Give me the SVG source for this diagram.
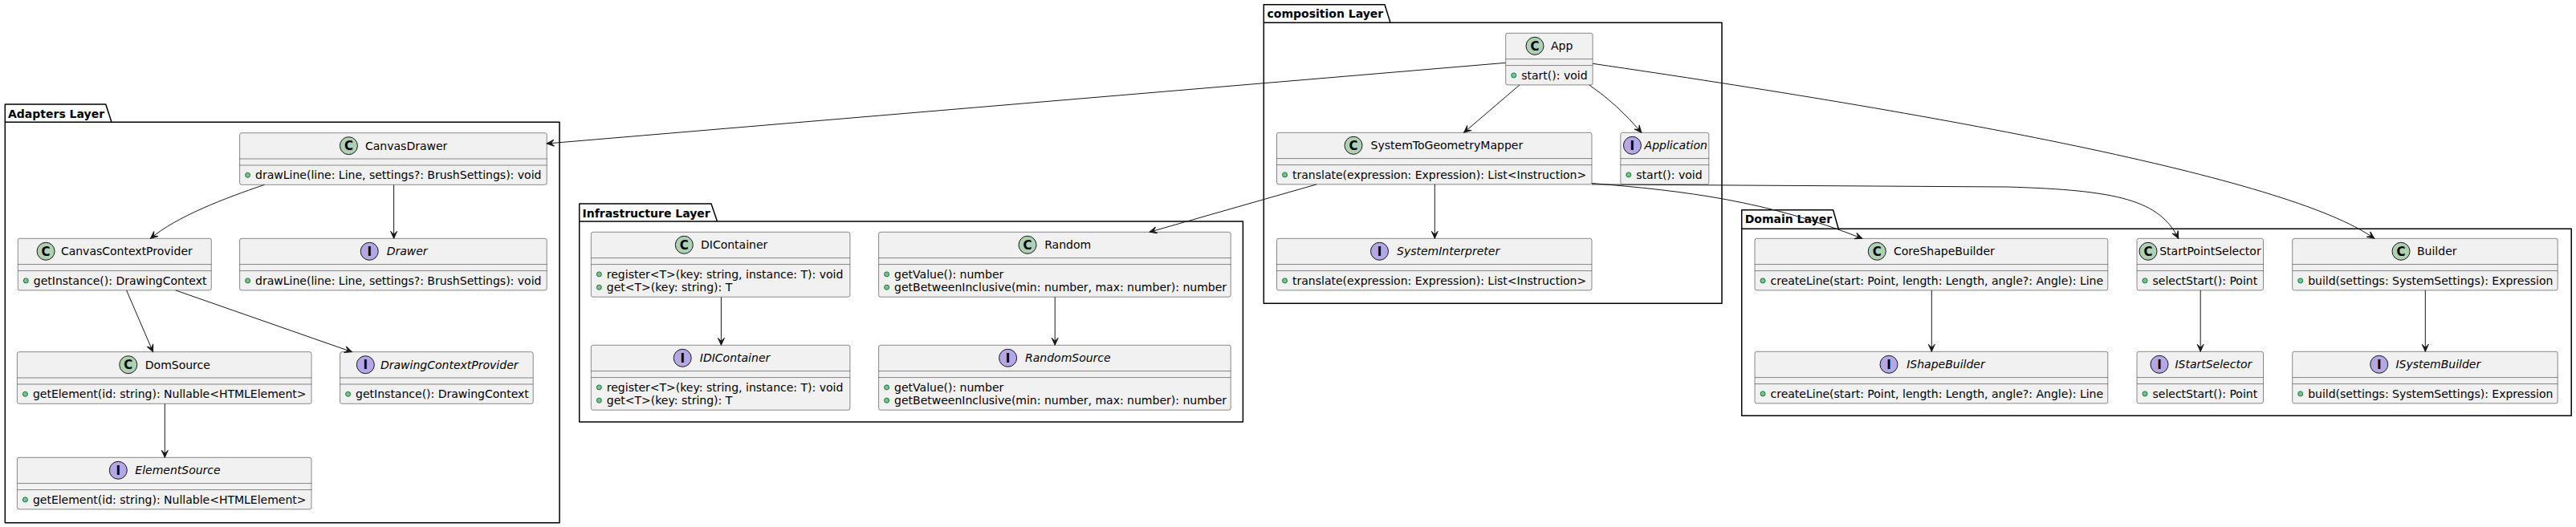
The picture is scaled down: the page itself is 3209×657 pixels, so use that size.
<svg xmlns="http://www.w3.org/2000/svg" width="3209" height="657" viewBox="0 0 3209 657">
<style>
.box{fill:#F1F1F1;stroke:#181818;stroke-width:0.5}
.sep{stroke:#181818;stroke-width:0.5}
.cc{fill:#ADD1B2;stroke:#181818;stroke-width:1}
.ci{fill:#B4A7E5;stroke:#181818;stroke-width:1}
.lt{font-family:"DejaVu Sans",sans-serif;font-weight:bold;font-size:15px;text-anchor:middle;fill:#000}
.name{font-family:"DejaVu Sans",sans-serif;font-size:14px;fill:#000}
.iname{font-family:"DejaVu Sans",sans-serif;font-size:14px;font-style:italic;fill:#000}
.m{font-family:"DejaVu Sans",sans-serif;font-size:14px;fill:#000}
.vis{fill:#84BE84;stroke:#038048;stroke-width:1}
.pkg{fill:none;stroke:#000;stroke-width:1.5;stroke-linejoin:round}
.pl{font-family:"DejaVu Sans",sans-serif;font-weight:bold;font-size:14px;fill:#000}
.edge{fill:none;stroke:#181818;stroke-width:1;marker-end:url(#arr)}
</style>
<defs>
<marker id="arr" viewBox="-10 -5 11 10" refX="0" refY="0" markerWidth="11" markerHeight="10" markerUnits="userSpaceOnUse" orient="auto"><path d="M0,0 L-9,-4 L-5,0 L-9,4 Z" fill="#181818" stroke="#181818" stroke-width="1"/></marker>
</defs>
<rect x="0" y="0" width="3209" height="657" fill="#FFFFFF"/>

<g id="pkg-adapters">
<path class="pkg" d="M6.3,130 L131.7,130 L139,152.3 L697,152.3 L697,651.7 L6.3,651.7 Z M6.3,152.3 L139,152.3"/>
<text class="pl" x="10" y="146.5">Adapters Layer</text>
</g>
<g id="pkg-infrastructure">
<path class="pkg" d="M721.7,254 L886,254 L893.5,276 L1548.4,276 L1548.4,526 L721.7,526 Z M721.7,276 L893.5,276"/>
<text class="pl" x="725.5" y="270.5">Infrastructure Layer</text>
</g>
<g id="pkg-composition">
<path class="pkg" d="M1574.3,5.7 L1725,5.7 L1732,28.3 L2145,28.3 L2145,378.3 L1574.3,378.3 Z M1574.3,28.3 L1732,28.3"/>
<text class="pl" x="1578.5" y="22.2">composition Layer</text>
</g>
<g id="pkg-domain">
<path class="pkg" d="M2169.7,261.7 L2283.6,261.7 L2290.2,285.3 L3203.2,285.3 L3203.2,518.3 L2169.7,518.3 Z M2169.7,285.3 L2290.2,285.3"/>
<text class="pl" x="2173.7" y="278.2">Domain Layer</text>
</g>

<g id="CanvasDrawer">
<rect class="box" x="298.6" y="165.7" width="382.6" height="64.6" rx="2.5"/>
<circle class="cc" cx="434.4" cy="181.7" r="11"/><text class="lt" x="434.4" y="187.2">C</text>
<text class="name" x="455" y="186.7">CanvasDrawer</text>
<line class="sep" x1="298.6" y1="198" x2="681.2" y2="198"/><line class="sep" x1="298.6" y1="206" x2="681.2" y2="206"/>
<circle class="vis" cx="308.6" cy="218.3" r="3"/><text class="m" x="318.1" y="223">drawLine(line: Line, settings?: BrushSettings): void</text>
</g>
<g id="Drawer">
<rect class="box" x="298.6" y="297.3" width="382.6" height="64.6" rx="2.5"/>
<circle class="ci" cx="460.2" cy="313.3" r="11"/><text class="lt" x="460.2" y="318.8">I</text>
<text class="iname" x="481.7" y="318.3">Drawer</text>
<line class="sep" x1="298.6" y1="329.6" x2="681.2" y2="329.6"/><line class="sep" x1="298.6" y1="337.6" x2="681.2" y2="337.6"/>
<circle class="vis" cx="308.6" cy="349.9" r="3"/><text class="m" x="318.1" y="354.6">drawLine(line: Line, settings?: BrushSettings): void</text>
</g>
<g id="CanvasContextProvider">
<rect class="box" x="22.3" y="297.3" width="241" height="64.6" rx="2.5"/>
<circle class="cc" cx="57.1" cy="313.3" r="11"/><text class="lt" x="57.1" y="318.8">C</text>
<text class="name" x="75.9" y="318.3">CanvasContextProvider</text>
<line class="sep" x1="22.3" y1="329.6" x2="263.3" y2="329.6"/><line class="sep" x1="22.3" y1="337.6" x2="263.3" y2="337.6"/>
<circle class="vis" cx="32.3" cy="349.9" r="3"/><text class="m" x="41.8" y="354.6">getInstance(): DrawingContext</text>
</g>
<g id="DomSource">
<rect class="box" x="21.4" y="438.7" width="366.6" height="64.6" rx="2.5"/>
<circle class="cc" cx="159.8" cy="454.7" r="11"/><text class="lt" x="159.8" y="460.2">C</text>
<text class="name" x="180.8" y="459.7">DomSource</text>
<line class="sep" x1="21.4" y1="471" x2="388" y2="471"/><line class="sep" x1="21.4" y1="479" x2="388" y2="479"/>
<circle class="vis" cx="31.4" cy="491.3" r="3"/><text class="m" x="40.9" y="496">getElement(id: string): Nullable&lt;HTMLElement&gt;</text>
</g>
<g id="DrawingContextProvider">
<rect class="box" x="423.6" y="438.7" width="240.6" height="64.6" rx="2.5"/>
<circle class="ci" cx="455.3" cy="454.7" r="11"/><text class="lt" x="455.3" y="460.2">I</text>
<text class="iname" x="474" y="459.7">DrawingContextProvider</text>
<line class="sep" x1="423.6" y1="471" x2="664.2" y2="471"/><line class="sep" x1="423.6" y1="479" x2="664.2" y2="479"/>
<circle class="vis" cx="433.6" cy="491.3" r="3"/><text class="m" x="443.1" y="496">getInstance(): DrawingContext</text>
</g>
<g id="ElementSource">
<rect class="box" x="21.4" y="570.3" width="366.6" height="64.6" rx="2.5"/>
<circle class="ci" cx="147.3" cy="586.3" r="11"/><text class="lt" x="147.3" y="591.8">I</text>
<text class="iname" x="168.3" y="591.3">ElementSource</text>
<line class="sep" x1="21.4" y1="602.6" x2="388" y2="602.6"/><line class="sep" x1="21.4" y1="610.6" x2="388" y2="610.6"/>
<circle class="vis" cx="31.4" cy="622.9" r="3"/><text class="m" x="40.9" y="627.6">getElement(id: string): Nullable&lt;HTMLElement&gt;</text>
</g>

<g id="DIContainer">
<rect class="box" x="736.3" y="289.3" width="322.6" height="80.9" rx="2.5"/>
<circle class="cc" cx="852.3" cy="305.3" r="11"/><text class="lt" x="852.3" y="310.8">C</text>
<text class="name" x="873" y="310.3">DIContainer</text>
<line class="sep" x1="736.3" y1="321.6" x2="1058.9" y2="321.6"/><line class="sep" x1="736.3" y1="329.6" x2="1058.9" y2="329.6"/>
<circle class="vis" cx="746.3" cy="341.9" r="3"/><text class="m" x="755.8" y="346.6">register&lt;T&gt;(key: string, instance: T): void</text>
<circle class="vis" cx="746.3" cy="358.2" r="3"/><text class="m" x="755.8" y="362.9">get&lt;T&gt;(key: string): T</text>
</g>
<g id="Random">
<rect class="box" x="1094.6" y="289.3" width="438.6" height="80.9" rx="2.5"/>
<circle class="cc" cx="1280" cy="305.3" r="11"/><text class="lt" x="1280" y="310.8">C</text>
<text class="name" x="1301.2" y="310.3">Random</text>
<line class="sep" x1="1094.6" y1="321.6" x2="1533.2" y2="321.6"/><line class="sep" x1="1094.6" y1="329.6" x2="1533.2" y2="329.6"/>
<circle class="vis" cx="1104.6" cy="341.9" r="3"/><text class="m" x="1114.1" y="346.6">getValue(): number</text>
<circle class="vis" cx="1104.6" cy="358.2" r="3"/><text class="m" x="1114.1" y="362.9">getBetweenInclusive(min: number, max: number): number</text>
</g>
<g id="IDIContainer">
<rect class="box" x="736.3" y="430.3" width="322.6" height="80.9" rx="2.5"/>
<circle class="ci" cx="850.2" cy="446.3" r="11"/><text class="lt" x="850.2" y="451.8">I</text>
<text class="iname" x="871.8" y="451.3">IDIContainer</text>
<line class="sep" x1="736.3" y1="462.6" x2="1058.9" y2="462.6"/><line class="sep" x1="736.3" y1="470.6" x2="1058.9" y2="470.6"/>
<circle class="vis" cx="746.3" cy="482.9" r="3"/><text class="m" x="755.8" y="487.6">register&lt;T&gt;(key: string, instance: T): void</text>
<circle class="vis" cx="746.3" cy="499.2" r="3"/><text class="m" x="755.8" y="503.9">get&lt;T&gt;(key: string): T</text>
</g>
<g id="RandomSource">
<rect class="box" x="1094.6" y="430.3" width="438.6" height="80.9" rx="2.5"/>
<circle class="ci" cx="1255.6" cy="446.3" r="11"/><text class="lt" x="1255.6" y="451.8">I</text>
<text class="iname" x="1277" y="451.3">RandomSource</text>
<line class="sep" x1="1094.6" y1="462.6" x2="1533.2" y2="462.6"/><line class="sep" x1="1094.6" y1="470.6" x2="1533.2" y2="470.6"/>
<circle class="vis" cx="1104.6" cy="482.9" r="3"/><text class="m" x="1114.1" y="487.6">getValue(): number</text>
<circle class="vis" cx="1104.6" cy="499.2" r="3"/><text class="m" x="1114.1" y="503.9">getBetweenInclusive(min: number, max: number): number</text>
</g>

<g id="App">
<rect class="box" x="1875.7" y="41.3" width="108.4" height="64.6" rx="2.5"/>
<circle class="cc" cx="1912" cy="57.3" r="11"/><text class="lt" x="1912" y="62.8">C</text>
<text class="name" x="1932" y="62.3">App</text>
<line class="sep" x1="1875.7" y1="73.6" x2="1984.1" y2="73.6"/><line class="sep" x1="1875.7" y1="81.6" x2="1984.1" y2="81.6"/>
<circle class="vis" cx="1885.7" cy="93.9" r="3"/><text class="m" x="1895.2" y="98.6">start(): void</text>
</g>
<g id="SystemToGeometryMapper">
<rect class="box" x="1590.5" y="165.3" width="392.5" height="64.6" rx="2.5"/>
<circle class="cc" cx="1686" cy="181.3" r="11"/><text class="lt" x="1686" y="186.8">C</text>
<text class="name" x="1707.6" y="186.3">SystemToGeometryMapper</text>
<line class="sep" x1="1590.5" y1="197.6" x2="1983" y2="197.6"/><line class="sep" x1="1590.5" y1="205.6" x2="1983" y2="205.6"/>
<circle class="vis" cx="1600.5" cy="217.9" r="3"/><text class="m" x="1610" y="222.6">translate(expression: Expression): List&lt;Instruction&gt;</text>
</g>
<g id="Application">
<rect class="box" x="2018.8" y="165.3" width="110" height="64.6" rx="2.5"/>
<circle class="ci" cx="2033.4" cy="181.3" r="11"/><text class="lt" x="2033.4" y="186.8">I</text>
<text class="iname" x="2048.6" y="186.3">Application</text>
<line class="sep" x1="2018.8" y1="197.6" x2="2128.8" y2="197.6"/><line class="sep" x1="2018.8" y1="205.6" x2="2128.8" y2="205.6"/>
<circle class="vis" cx="2028.8" cy="217.9" r="3"/><text class="m" x="2038.3" y="222.6">start(): void</text>
</g>
<g id="SystemInterpreter">
<rect class="box" x="1590.5" y="297.3" width="392.5" height="64.6" rx="2.5"/>
<circle class="ci" cx="1718.5" cy="313.3" r="11"/><text class="lt" x="1718.5" y="318.8">I</text>
<text class="iname" x="1740" y="318.3">SystemInterpreter</text>
<line class="sep" x1="1590.5" y1="329.6" x2="1983" y2="329.6"/><line class="sep" x1="1590.5" y1="337.6" x2="1983" y2="337.6"/>
<circle class="vis" cx="1600.5" cy="349.9" r="3"/><text class="m" x="1610" y="354.6">translate(expression: Expression): List&lt;Instruction&gt;</text>
</g>

<g id="CoreShapeBuilder">
<rect class="box" x="2186" y="297.3" width="439.8" height="64.6" rx="2.5"/>
<circle class="cc" cx="2338.3" cy="313.3" r="11"/><text class="lt" x="2338.3" y="318.8">C</text>
<text class="name" x="2359" y="318.3">CoreShapeBuilder</text>
<line class="sep" x1="2186" y1="329.6" x2="2625.8" y2="329.6"/><line class="sep" x1="2186" y1="337.6" x2="2625.8" y2="337.6"/>
<circle class="vis" cx="2196" cy="349.9" r="3"/><text class="m" x="2205.5" y="354.6">createLine(start: Point, length: Length, angle?: Angle): Line</text>
</g>
<g id="StartPointSelector">
<rect class="box" x="2662" y="297.3" width="157.5" height="64.6" rx="2.5"/>
<circle class="cc" cx="2676" cy="313.3" r="11"/><text class="lt" x="2676" y="318.8">C</text>
<text class="name" x="2690.2" y="318.3">StartPointSelector</text>
<line class="sep" x1="2662" y1="329.6" x2="2819.5" y2="329.6"/><line class="sep" x1="2662" y1="337.6" x2="2819.5" y2="337.6"/>
<circle class="vis" cx="2672" cy="349.9" r="3"/><text class="m" x="2681.5" y="354.6">selectStart(): Point</text>
</g>
<g id="Builder">
<rect class="box" x="2855.7" y="297.3" width="330.5" height="64.6" rx="2.5"/>
<circle class="cc" cx="2991" cy="313.3" r="11"/><text class="lt" x="2991" y="318.8">C</text>
<text class="name" x="3011" y="318.3">Builder</text>
<line class="sep" x1="2855.7" y1="329.6" x2="3186.2" y2="329.6"/><line class="sep" x1="2855.7" y1="337.6" x2="3186.2" y2="337.6"/>
<circle class="vis" cx="2865.7" cy="349.9" r="3"/><text class="m" x="2875.2" y="354.6">build(settings: SystemSettings): Expression</text>
</g>
<g id="IShapeBuilder">
<rect class="box" x="2186" y="438.3" width="439.8" height="64.6" rx="2.5"/>
<circle class="ci" cx="2353" cy="454.3" r="11"/><text class="lt" x="2353" y="459.8">I</text>
<text class="iname" x="2375.2" y="459.3">IShapeBuilder</text>
<line class="sep" x1="2186" y1="470.6" x2="2625.8" y2="470.6"/><line class="sep" x1="2186" y1="478.6" x2="2625.8" y2="478.6"/>
<circle class="vis" cx="2196" cy="490.9" r="3"/><text class="m" x="2205.5" y="495.6">createLine(start: Point, length: Length, angle?: Angle): Line</text>
</g>
<g id="IStartSelector">
<rect class="box" x="2662" y="438.3" width="157.5" height="64.6" rx="2.5"/>
<circle class="ci" cx="2690" cy="454.3" r="11"/><text class="lt" x="2690" y="459.8">I</text>
<text class="iname" x="2709.4" y="459.3">IStartSelector</text>
<line class="sep" x1="2662" y1="470.6" x2="2819.5" y2="470.6"/><line class="sep" x1="2662" y1="478.6" x2="2819.5" y2="478.6"/>
<circle class="vis" cx="2672" cy="490.9" r="3"/><text class="m" x="2681.5" y="495.6">selectStart(): Point</text>
</g>
<g id="ISystemBuilder">
<rect class="box" x="2855.7" y="438.3" width="330.5" height="64.6" rx="2.5"/>
<circle class="ci" cx="2963.7" cy="454.3" r="11"/><text class="lt" x="2963.7" y="459.8">I</text>
<text class="iname" x="2984.4" y="459.3">ISystemBuilder</text>
<line class="sep" x1="2855.7" y1="470.6" x2="3186.2" y2="470.6"/><line class="sep" x1="2855.7" y1="478.6" x2="3186.2" y2="478.6"/>
<circle class="vis" cx="2865.7" cy="490.9" r="3"/><text class="m" x="2875.2" y="495.6">build(settings: SystemSettings): Expression</text>
</g>

<g id="connectors">
<path class="edge" d="M1875.7,78.3 L681.2,179"/>
<path class="edge" d="M1893,105.9 L1823.6,165.3"/>
<path class="edge" d="M1979.8,105.9 Q2015,130 2044.8,165.3"/>
<path class="edge" d="M1984.1,79.3 C2400,140 2850,220 2957.7,297.3"/>
<path class="edge" d="M1787.3,229.9 L1787.3,297.3"/>
<path class="edge" d="M1639.9,229.9 L1431.9,289.3"/>
<path class="edge" d="M1983,228.5 C2100,238 2200,250 2319.8,297.3"/>
<path class="edge" d="M1983,229.9 L2500,233 C2640,237 2690,250 2713.8,297.3"/>
<path class="edge" d="M329.5,230.3 C280,247 220,270 187.5,297.3"/>
<path class="edge" d="M490.6,230.3 L490.6,297.3"/>
<path class="edge" d="M157.6,361.9 L190.6,438.7"/>
<path class="edge" d="M218.7,361.9 L438.4,438.7"/>
<path class="edge" d="M205.3,503.3 L205.3,570.3"/>
<path class="edge" d="M898.4,370.2 L898.4,430.3"/>
<path class="edge" d="M1314.2,370.2 L1314.2,430.3"/>
<path class="edge" d="M2406.3,361.9 L2406.3,438.3"/>
<path class="edge" d="M2741.2,361.9 L2741.2,438.3"/>
<path class="edge" d="M3021.3,361.9 L3021.3,438.3"/>
</g>
</svg>
